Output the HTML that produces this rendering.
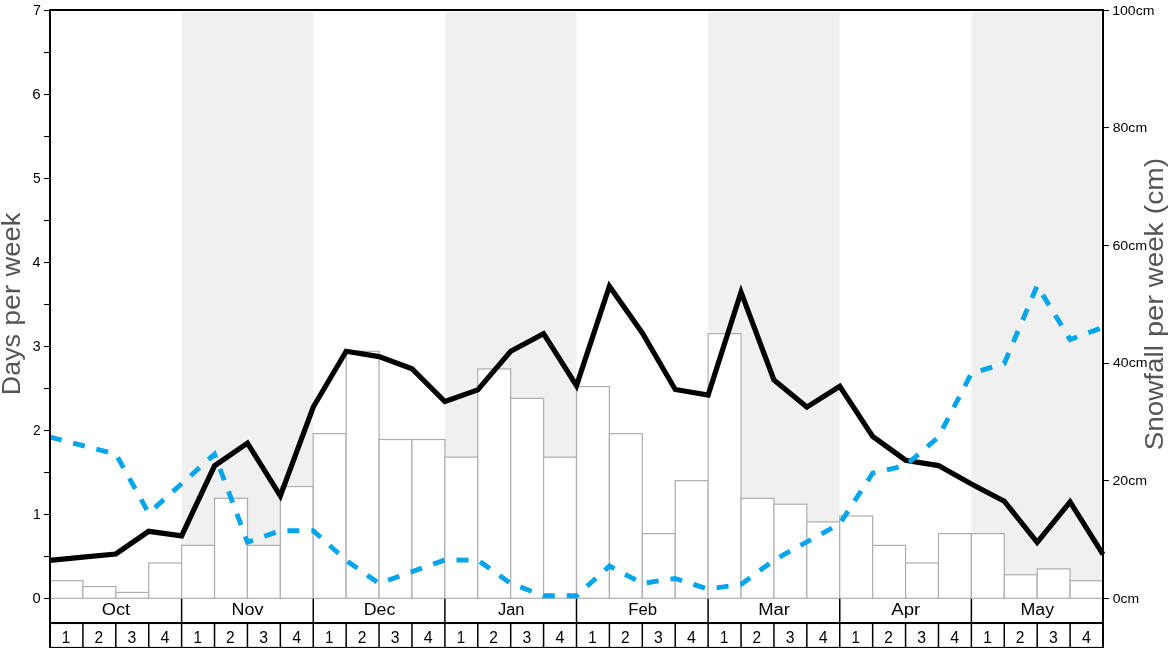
<!DOCTYPE html>
<html><head><meta charset="utf-8"><title>Snow chart</title>
<style>html,body{margin:0;padding:0;background:#fff;}svg{display:block;will-change:transform;}text{font-family:"Liberation Sans",sans-serif;}</style>
</head><body>
<svg width="1168" height="648" viewBox="0 0 1168 648">
<defs><clipPath id="ax"><rect x="50.00" y="10.20" width="1054.00" height="588.10"/></clipPath></defs>
<rect x="0" y="0" width="1168" height="648" fill="#ffffff"/>
<rect x="181.62" y="12.10" width="131.62" height="586.20" fill="#f0f0f0"/>
<rect x="444.88" y="12.10" width="131.62" height="586.20" fill="#f0f0f0"/>
<rect x="708.12" y="12.10" width="131.62" height="586.20" fill="#f0f0f0"/>
<rect x="971.38" y="12.10" width="129.33" height="586.20" fill="#f0f0f0"/>
<g fill="#ffffff" stroke="#adadb0" stroke-width="1.2">
<rect x="50.00" y="580.66" width="32.91" height="17.64"/>
<rect x="82.91" y="586.54" width="32.91" height="11.76"/>
<rect x="115.81" y="592.42" width="32.91" height="5.88"/>
<rect x="148.72" y="563.01" width="32.91" height="35.29"/>
<rect x="181.62" y="545.37" width="32.91" height="52.93"/>
<rect x="214.53" y="498.32" width="32.91" height="99.98"/>
<rect x="247.44" y="545.37" width="32.91" height="52.93"/>
<rect x="280.34" y="486.56" width="32.91" height="111.74"/>
<rect x="313.25" y="433.63" width="32.91" height="164.67"/>
<rect x="346.16" y="351.30" width="32.91" height="247.00"/>
<rect x="379.06" y="439.51" width="32.91" height="158.79"/>
<rect x="411.97" y="439.51" width="32.91" height="158.79"/>
<rect x="444.88" y="457.16" width="32.91" height="141.14"/>
<rect x="477.78" y="368.94" width="32.91" height="229.36"/>
<rect x="510.69" y="398.35" width="32.91" height="199.95"/>
<rect x="543.59" y="457.16" width="32.91" height="141.14"/>
<rect x="576.50" y="386.58" width="32.91" height="211.72"/>
<rect x="609.41" y="433.63" width="32.91" height="164.67"/>
<rect x="642.31" y="533.61" width="32.91" height="64.69"/>
<rect x="675.22" y="480.68" width="32.91" height="117.62"/>
<rect x="708.12" y="333.65" width="32.91" height="264.64"/>
<rect x="741.03" y="498.32" width="32.91" height="99.98"/>
<rect x="773.94" y="504.20" width="32.91" height="94.10"/>
<rect x="806.84" y="521.85" width="32.91" height="76.45"/>
<rect x="839.75" y="515.97" width="32.91" height="82.33"/>
<rect x="872.66" y="545.37" width="32.91" height="52.93"/>
<rect x="905.56" y="563.01" width="32.91" height="35.29"/>
<rect x="938.47" y="533.61" width="32.91" height="64.69"/>
<rect x="971.38" y="533.61" width="32.91" height="64.69"/>
<rect x="1004.28" y="574.78" width="32.91" height="23.52"/>
<rect x="1037.19" y="568.89" width="32.91" height="29.40"/>
<rect x="1070.09" y="580.66" width="32.91" height="17.64"/>
</g>
<g><polyline points="50.00,560.30 82.91,557.15 115.81,554.00 148.72,531.30 181.62,535.80 214.53,465.80 247.44,443.20 280.34,495.80 313.25,407.00 346.16,351.30 379.06,356.60 411.97,368.70 444.88,401.50 477.78,389.90 510.69,351.20 543.59,333.70 576.50,385.60 609.41,286.30 642.31,333.00 675.22,389.50 708.12,395.10 741.03,292.20 773.94,380.00 806.84,407.10 839.75,386.30 872.66,436.40 905.56,460.20 938.47,465.60 971.38,484.00 1004.28,501.20 1037.19,542.30 1070.09,501.90 1103.00,554.40" fill="none" stroke="#000000" stroke-width="5.2" stroke-linejoin="miter" stroke-miterlimit="10" stroke-linecap="butt"/>
<polyline points="50.00,437.00 82.91,445.70 115.81,454.00 148.72,513.10 181.62,483.80 214.53,454.20 247.44,542.10 280.34,530.80 313.25,530.75 346.16,560.40 379.06,583.40 411.97,571.70 444.88,560.00 477.78,560.10 510.69,583.40 543.59,595.80 576.50,595.80 609.41,566.00 642.31,583.40 675.22,578.50 708.12,589.10 741.03,584.40 773.94,560.10 806.84,541.90 839.75,523.80 872.66,473.20 905.56,465.40 938.47,437.00 971.38,373.50 1004.28,363.50 1037.19,285.70 1070.09,339.60 1103.00,327.40" fill="none" stroke="#00a5ec" stroke-width="4.86" stroke-dasharray="12 11.975" stroke-linejoin="miter" stroke-miterlimit="10" stroke-linecap="butt"/></g>
<g stroke="#000000" fill="none">
<rect x="49" y="9" width="2" height="639" fill="#000" stroke="none"/>
<rect x="1102" y="9" width="2" height="639" fill="#000" stroke="none"/>
<rect x="49" y="9" width="1055" height="2" fill="#000" stroke="none"/>
<rect x="49" y="622" width="1055" height="2.05" fill="#000" stroke="none"/>
<rect x="49" y="646.9" width="1055" height="2" fill="#000" stroke="none"/>
<line x1="82.91" y1="623.05" x2="82.91" y2="648" stroke-width="1.5"/>
<line x1="115.81" y1="623.05" x2="115.81" y2="648" stroke-width="1.5"/>
<line x1="148.72" y1="623.05" x2="148.72" y2="648" stroke-width="1.5"/>
<line x1="181.62" y1="598.80" x2="181.62" y2="648" stroke-width="1.5"/>
<line x1="214.53" y1="623.05" x2="214.53" y2="648" stroke-width="1.5"/>
<line x1="247.44" y1="623.05" x2="247.44" y2="648" stroke-width="1.5"/>
<line x1="280.34" y1="623.05" x2="280.34" y2="648" stroke-width="1.5"/>
<line x1="313.25" y1="598.80" x2="313.25" y2="648" stroke-width="1.5"/>
<line x1="346.16" y1="623.05" x2="346.16" y2="648" stroke-width="1.5"/>
<line x1="379.06" y1="623.05" x2="379.06" y2="648" stroke-width="1.5"/>
<line x1="411.97" y1="623.05" x2="411.97" y2="648" stroke-width="1.5"/>
<line x1="444.88" y1="598.80" x2="444.88" y2="648" stroke-width="1.5"/>
<line x1="477.78" y1="623.05" x2="477.78" y2="648" stroke-width="1.5"/>
<line x1="510.69" y1="623.05" x2="510.69" y2="648" stroke-width="1.5"/>
<line x1="543.59" y1="623.05" x2="543.59" y2="648" stroke-width="1.5"/>
<line x1="576.50" y1="598.80" x2="576.50" y2="648" stroke-width="1.5"/>
<line x1="609.41" y1="623.05" x2="609.41" y2="648" stroke-width="1.5"/>
<line x1="642.31" y1="623.05" x2="642.31" y2="648" stroke-width="1.5"/>
<line x1="675.22" y1="623.05" x2="675.22" y2="648" stroke-width="1.5"/>
<line x1="708.12" y1="598.80" x2="708.12" y2="648" stroke-width="1.5"/>
<line x1="741.03" y1="623.05" x2="741.03" y2="648" stroke-width="1.5"/>
<line x1="773.94" y1="623.05" x2="773.94" y2="648" stroke-width="1.5"/>
<line x1="806.84" y1="623.05" x2="806.84" y2="648" stroke-width="1.5"/>
<line x1="839.75" y1="598.80" x2="839.75" y2="648" stroke-width="1.5"/>
<line x1="872.66" y1="623.05" x2="872.66" y2="648" stroke-width="1.5"/>
<line x1="905.56" y1="623.05" x2="905.56" y2="648" stroke-width="1.5"/>
<line x1="938.47" y1="623.05" x2="938.47" y2="648" stroke-width="1.5"/>
<line x1="971.38" y1="598.80" x2="971.38" y2="648" stroke-width="1.5"/>
<line x1="1004.28" y1="623.05" x2="1004.28" y2="648" stroke-width="1.5"/>
<line x1="1037.19" y1="623.05" x2="1037.19" y2="648" stroke-width="1.5"/>
<line x1="1070.09" y1="623.05" x2="1070.09" y2="648" stroke-width="1.5"/>
<rect x="44" y="598" width="5" height="1.05" fill="#000" stroke="none"/>
<rect x="44" y="556" width="5" height="1.05" fill="#000" stroke="none"/>
<rect x="44" y="514" width="5" height="1.05" fill="#000" stroke="none"/>
<rect x="44" y="472" width="5" height="1.05" fill="#000" stroke="none"/>
<rect x="44" y="430" width="5" height="1.05" fill="#000" stroke="none"/>
<rect x="44" y="388" width="5" height="1.05" fill="#000" stroke="none"/>
<rect x="44" y="346" width="5" height="1.05" fill="#000" stroke="none"/>
<rect x="44" y="304" width="5" height="1.05" fill="#000" stroke="none"/>
<rect x="44" y="262" width="5" height="1.05" fill="#000" stroke="none"/>
<rect x="44" y="220" width="5" height="1.05" fill="#000" stroke="none"/>
<rect x="44" y="178" width="5" height="1.05" fill="#000" stroke="none"/>
<rect x="44" y="136" width="5" height="1.05" fill="#000" stroke="none"/>
<rect x="44" y="94" width="5" height="1.05" fill="#000" stroke="none"/>
<rect x="44" y="52" width="5" height="1.05" fill="#000" stroke="none"/>
<rect x="44" y="10" width="5" height="1.05" fill="#000" stroke="none"/>
<rect x="1104" y="598" width="5" height="1.05" fill="#000" stroke="none"/>
<rect x="1104" y="480" width="5" height="1.05" fill="#000" stroke="none"/>
<rect x="1104" y="363" width="5" height="1.05" fill="#000" stroke="none"/>
<rect x="1104" y="245" width="5" height="1.05" fill="#000" stroke="none"/>
<rect x="1104" y="127" width="5" height="1.05" fill="#000" stroke="none"/>
<rect x="1104" y="10" width="5" height="1.05" fill="#000" stroke="none"/>
</g>
<text x="101.82" y="615.00" font-size="16.00" textLength="28.36" lengthAdjust="spacingAndGlyphs" fill="#000">Oct</text>
<text x="231.53" y="615.00" font-size="16.00" textLength="31.91" lengthAdjust="spacingAndGlyphs" fill="#000">Nov</text>
<text x="363.76" y="615.00" font-size="16.00" textLength="31.54" lengthAdjust="spacingAndGlyphs" fill="#000">Dec</text>
<text x="497.96" y="615.00" font-size="16.00" textLength="26.37" lengthAdjust="spacingAndGlyphs" fill="#000">Jan</text>
<text x="628.29" y="615.00" font-size="16.00" textLength="28.92" lengthAdjust="spacingAndGlyphs" fill="#000">Feb</text>
<text x="758.26" y="615.00" font-size="16.00" textLength="31.76" lengthAdjust="spacingAndGlyphs" fill="#000">Mar</text>
<text x="891.31" y="615.00" font-size="16.00" textLength="28.86" lengthAdjust="spacingAndGlyphs" fill="#000">Apr</text>
<text x="1020.53" y="615.00" font-size="16.00" textLength="33.69" lengthAdjust="spacingAndGlyphs" fill="#000">May</text>
<text x="61.84" y="642.70" font-size="16.20" textLength="8.41" lengthAdjust="spacingAndGlyphs" fill="#000">1</text>
<text x="94.46" y="642.70" font-size="16.20" textLength="8.62" lengthAdjust="spacingAndGlyphs" fill="#000">2</text>
<text x="127.55" y="642.70" font-size="16.20" textLength="8.78" lengthAdjust="spacingAndGlyphs" fill="#000">3</text>
<text x="160.53" y="642.70" font-size="16.20" textLength="8.91" lengthAdjust="spacingAndGlyphs" fill="#000">4</text>
<text x="193.45" y="642.70" font-size="16.20" textLength="8.41" lengthAdjust="spacingAndGlyphs" fill="#000">1</text>
<text x="226.09" y="642.70" font-size="16.20" textLength="8.61" lengthAdjust="spacingAndGlyphs" fill="#000">2</text>
<text x="259.19" y="642.70" font-size="16.20" textLength="8.76" lengthAdjust="spacingAndGlyphs" fill="#000">3</text>
<text x="292.15" y="642.70" font-size="16.20" textLength="8.91" lengthAdjust="spacingAndGlyphs" fill="#000">4</text>
<text x="325.09" y="642.70" font-size="16.20" textLength="8.41" lengthAdjust="spacingAndGlyphs" fill="#000">1</text>
<text x="357.71" y="642.70" font-size="16.20" textLength="8.62" lengthAdjust="spacingAndGlyphs" fill="#000">2</text>
<text x="390.80" y="642.70" font-size="16.20" textLength="8.78" lengthAdjust="spacingAndGlyphs" fill="#000">3</text>
<text x="423.78" y="642.70" font-size="16.20" textLength="8.91" lengthAdjust="spacingAndGlyphs" fill="#000">4</text>
<text x="456.70" y="642.70" font-size="16.20" textLength="8.41" lengthAdjust="spacingAndGlyphs" fill="#000">1</text>
<text x="489.34" y="642.70" font-size="16.20" textLength="8.61" lengthAdjust="spacingAndGlyphs" fill="#000">2</text>
<text x="522.44" y="642.70" font-size="16.20" textLength="8.76" lengthAdjust="spacingAndGlyphs" fill="#000">3</text>
<text x="555.40" y="642.70" font-size="16.20" textLength="8.91" lengthAdjust="spacingAndGlyphs" fill="#000">4</text>
<text x="588.34" y="642.70" font-size="16.20" textLength="8.41" lengthAdjust="spacingAndGlyphs" fill="#000">1</text>
<text x="620.96" y="642.70" font-size="16.20" textLength="8.62" lengthAdjust="spacingAndGlyphs" fill="#000">2</text>
<text x="654.05" y="642.70" font-size="16.20" textLength="8.78" lengthAdjust="spacingAndGlyphs" fill="#000">3</text>
<text x="687.03" y="642.70" font-size="16.20" textLength="8.91" lengthAdjust="spacingAndGlyphs" fill="#000">4</text>
<text x="719.95" y="642.70" font-size="16.20" textLength="8.41" lengthAdjust="spacingAndGlyphs" fill="#000">1</text>
<text x="752.59" y="642.70" font-size="16.20" textLength="8.61" lengthAdjust="spacingAndGlyphs" fill="#000">2</text>
<text x="785.69" y="642.70" font-size="16.20" textLength="8.76" lengthAdjust="spacingAndGlyphs" fill="#000">3</text>
<text x="818.65" y="642.70" font-size="16.20" textLength="8.91" lengthAdjust="spacingAndGlyphs" fill="#000">4</text>
<text x="851.59" y="642.70" font-size="16.20" textLength="8.41" lengthAdjust="spacingAndGlyphs" fill="#000">1</text>
<text x="884.21" y="642.70" font-size="16.20" textLength="8.62" lengthAdjust="spacingAndGlyphs" fill="#000">2</text>
<text x="917.30" y="642.70" font-size="16.20" textLength="8.78" lengthAdjust="spacingAndGlyphs" fill="#000">3</text>
<text x="950.28" y="642.70" font-size="16.20" textLength="8.91" lengthAdjust="spacingAndGlyphs" fill="#000">4</text>
<text x="983.20" y="642.70" font-size="16.20" textLength="8.41" lengthAdjust="spacingAndGlyphs" fill="#000">1</text>
<text x="1015.84" y="642.70" font-size="16.20" textLength="8.61" lengthAdjust="spacingAndGlyphs" fill="#000">2</text>
<text x="1048.94" y="642.70" font-size="16.20" textLength="8.76" lengthAdjust="spacingAndGlyphs" fill="#000">3</text>
<text x="1081.90" y="642.70" font-size="16.20" textLength="8.91" lengthAdjust="spacingAndGlyphs" fill="#000">4</text>
<text x="32.46" y="603.15" font-size="14.70" textLength="8.18" lengthAdjust="spacingAndGlyphs" fill="#000">0</text>
<text x="33.06" y="519.14" font-size="14.70" textLength="7.77" lengthAdjust="spacingAndGlyphs" fill="#000">1</text>
<text x="33.00" y="435.12" font-size="14.70" textLength="7.67" lengthAdjust="spacingAndGlyphs" fill="#000">2</text>
<text x="32.86" y="351.11" font-size="14.70" textLength="7.85" lengthAdjust="spacingAndGlyphs" fill="#000">3</text>
<text x="32.56" y="267.09" font-size="14.70" textLength="7.94" lengthAdjust="spacingAndGlyphs" fill="#000">4</text>
<text x="32.90" y="183.08" font-size="14.70" textLength="7.66" lengthAdjust="spacingAndGlyphs" fill="#000">5</text>
<text x="32.26" y="99.06" font-size="14.70" textLength="8.40" lengthAdjust="spacingAndGlyphs" fill="#000">6</text>
<text x="32.91" y="15.05" font-size="14.70" textLength="7.94" lengthAdjust="spacingAndGlyphs" fill="#000">7</text>
<text x="1112.71" y="602.70" font-size="13.20" textLength="26.50" lengthAdjust="spacingAndGlyphs" fill="#000">0cm</text>
<text x="1112.43" y="485.08" font-size="13.20" textLength="34.77" lengthAdjust="spacingAndGlyphs" fill="#000">20cm</text>
<text x="1112.97" y="367.46" font-size="13.20" textLength="34.44" lengthAdjust="spacingAndGlyphs" fill="#000">40cm</text>
<text x="1112.43" y="249.84" font-size="13.20" textLength="34.76" lengthAdjust="spacingAndGlyphs" fill="#000">60cm</text>
<text x="1112.69" y="132.22" font-size="13.20" textLength="34.43" lengthAdjust="spacingAndGlyphs" fill="#000">80cm</text>
<text x="1112.17" y="14.60" font-size="13.20" textLength="42.31" lengthAdjust="spacingAndGlyphs" fill="#000">100cm</text>
<text transform="translate(20.10,395.18) rotate(-90)" font-size="25.90" textLength="61.17" lengthAdjust="spacingAndGlyphs" fill="#555555">Days</text>
<text transform="translate(20.10,325.80) rotate(-90)" font-size="25.90" textLength="41.09" lengthAdjust="spacingAndGlyphs" fill="#555555">per</text>
<text transform="translate(20.10,276.40) rotate(-90)" font-size="25.90" textLength="63.81" lengthAdjust="spacingAndGlyphs" fill="#555555">week</text>
<text transform="translate(1163.20,450.18) rotate(-90)" font-size="26.20" textLength="105.10" lengthAdjust="spacingAndGlyphs" fill="#555555">Snowfall</text>
<text transform="translate(1163.20,337.09) rotate(-90)" font-size="26.20" textLength="42.04" lengthAdjust="spacingAndGlyphs" fill="#555555">per</text>
<text transform="translate(1163.20,287.36) rotate(-90)" font-size="26.20" textLength="64.81" lengthAdjust="spacingAndGlyphs" fill="#555555">week</text>
<text transform="translate(1163.20,214.18) rotate(-90)" font-size="26.20" textLength="56.26" lengthAdjust="spacingAndGlyphs" fill="#555555">(cm)</text>
</svg>
</body></html>
